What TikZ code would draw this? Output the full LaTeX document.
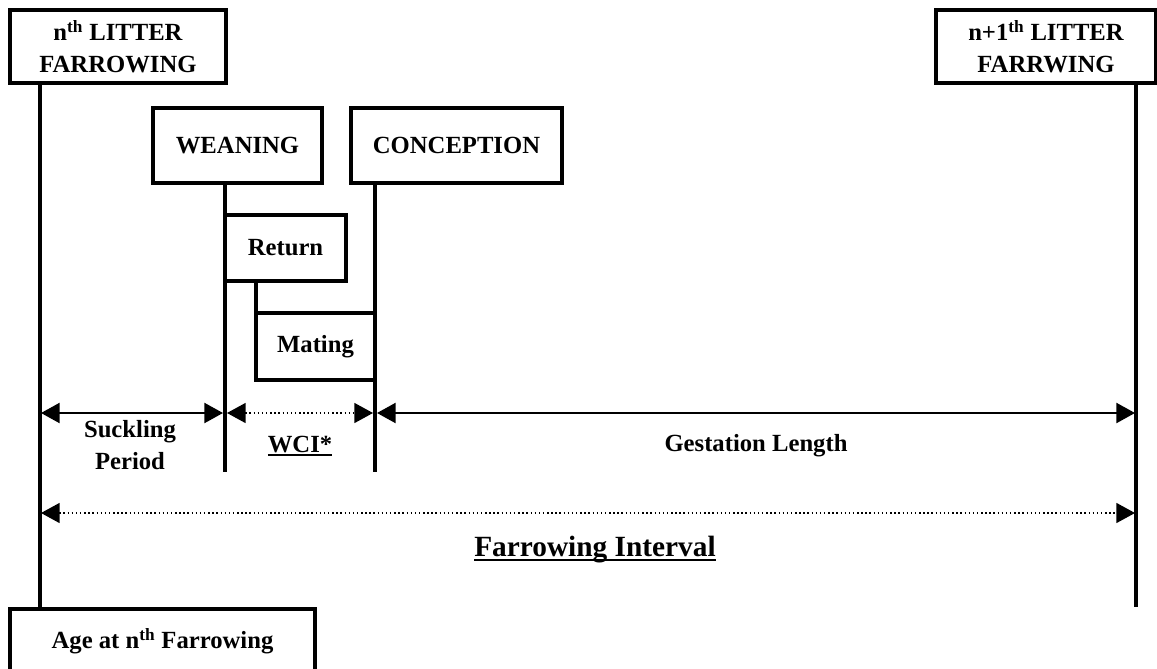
\documentclass[tikz,border=0pt]{standalone}
\usepackage{fontspec}
\setmainfont{Liberation Serif}
\usetikzlibrary{arrows.meta,calc}
\newcommand{\thickul}[2]{\setbox0\hbox{#2}\rlap{\rule[-3.2pt]{\wd0}{#1}}\box0}
\begin{document}
\begin{tikzpicture}[x=0.75pt,y=-0.75pt,
  box/.style={draw,line width=2.6pt,inner sep=0pt,align=center,font=\bfseries\fontsize{18.5}{24}\selectfont},
  ln/.style={line width=2.6pt},
  tip/.tip={Triangle[length=14pt,width=15pt]},
  dim/.style={line width=1.7pt,tip-tip},
  dimdot/.style={line width=1.1pt,dotted,tip-tip},
  lab/.style={inner sep=0pt,align=center,font=\bfseries\fontsize{18.5}{24}\selectfont}]
\useasboundingbox (0,0) rectangle (1157,668);
\clip (0,0) rectangle (1157,668);
% boxes
\node[box,minimum width=216*0.75pt,minimum height=73*0.75pt] (f1) at (118,46.5) {n\textsuperscript{th} LITTER\\FARROWING};
\node[box,minimum width=220*0.75pt,minimum height=73*0.75pt] (f2) at (1046,46.5) {n+1\textsuperscript{th} LITTER\\FARRWING};
\node[box,minimum width=169*0.75pt,minimum height=75*0.75pt] (wean) at (237.5,145.5) {WEANING};
\node[box,minimum width=211*0.75pt,minimum height=75*0.75pt] (conc) at (456.5,145.5) {CONCEPTION};
\node[box,minimum width=121*0.75pt,minimum height=66*0.75pt] (ret) at (285.5,248) {Return};
\node[box,minimum width=119*0.75pt,minimum height=67*0.75pt] (mat) at (315.5,346.5) {Mating};
\node[box,minimum width=305*0.75pt,minimum height=64*0.75pt] (age) at (162.5,641) {Age at n\textsuperscript{th} Farrowing};
% anchor coordinates for the vertical lines
\coordinate (xa) at (40,0);
\coordinate (xb) at (1136,0);
\coordinate (xw) at (225,0);
\coordinate (xc) at (375,0);
\coordinate (xr) at (256,0);
\coordinate (endw) at (225,472);
\coordinate (endc) at (375,472);
\coordinate (endb) at (1136,607);
% vertical lines
\draw[ln] (xa |- f1.south) -- (xa |- age.north);
\draw[ln] (xb |- f2.south) -- (endb);
\draw[ln] (xw |- wean.south) -- (endw);
\draw[ln] (xc |- conc.south) -- (endc);
\draw[ln] (xr |- ret.south) -- (xr |- mat.north);
% dimension arrows
\coordinate (s1) at (41,413);
\coordinate (s2) at (223,413);
\coordinate (w1) at (227,413);
\coordinate (w2) at (373,413);
\coordinate (g1) at (377,413);
\coordinate (g2) at (1135,413);
\coordinate (i1) at (41,513);
\coordinate (i2) at (1135,513);
\draw[dim] (s1) -- (s2);
\draw[dimdot] (w1) -- (w2);
\draw[dim] (g1) -- (g2);
\draw[dimdot] (i1) -- (i2);
% labels
\node[lab] (suck) at (130,445) {Suckling\\Period};
\node[lab] (wci) at (300,446) {\thickul{1.4pt}{WCI*}};
\node[lab] (gest) at (756,446) {Gestation Length};
\node[lab,font=\bfseries\fontsize{22}{26}\selectfont] (fi) at (595,550) {\thickul{2pt}{Farrowing Interval}};
\end{tikzpicture}
\end{document}
